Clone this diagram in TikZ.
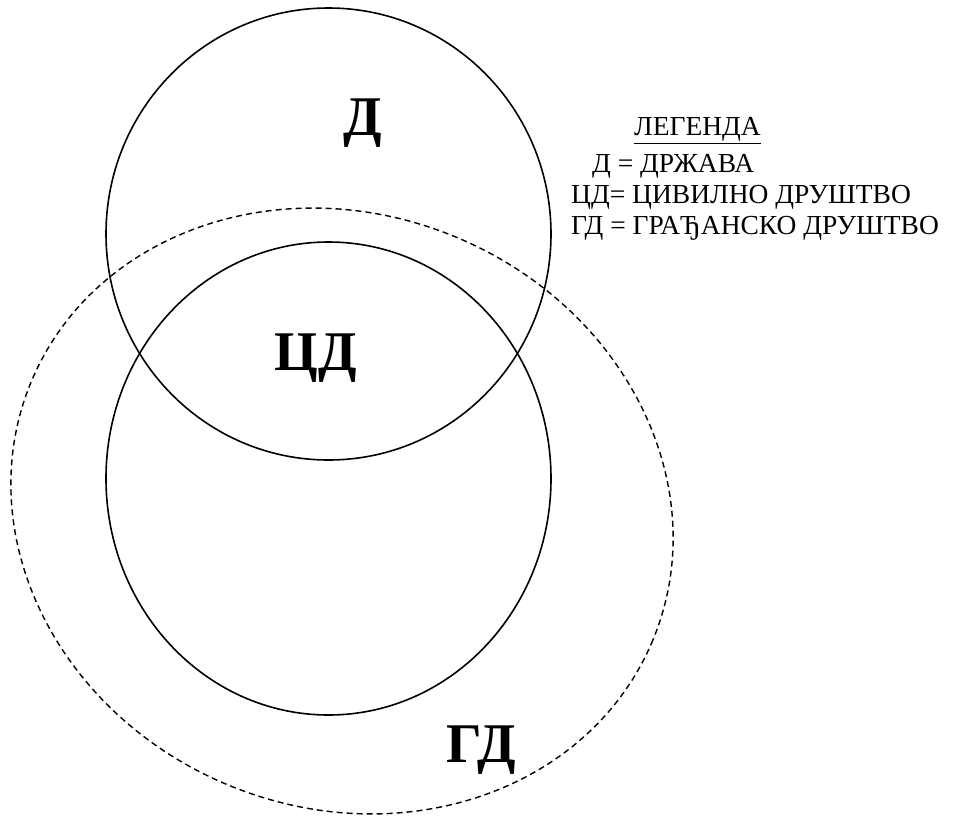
\documentclass[tikz,border=0pt]{standalone}
\usepackage{fontspec}
\setmainfont{Liberation Serif}
\usepackage{tikz}
\usetikzlibrary{positioning}
\tikzset{
  ring/.style={draw=black,line width=1.6pt},
  ringd/.style={ring,line width=1.4pt,dash pattern=on 6pt off 4pt},
  big/.style={font=\fontsize{56}{60}\selectfont\bfseries,inner sep=0pt,anchor=base},
  legline/.style={font=\fontsize{27.5}{31}\selectfont,inner sep=0pt,anchor=base west},
}
\begin{document}
\begin{tikzpicture}[x=1pt,y=-1pt]
  \useasboundingbox (0,0) rectangle (953,817);
  % the three sets
  \draw[ring] (328.5,234) ellipse [x radius=222.5,y radius=226];
  \draw[ring] (328.5,478.5) ellipse [x radius=222.5,y radius=236.5];
  \draw[ringd,rotate around={-22.5:(342,511)}] (342,511) ellipse [x radius=336.6,y radius=296.7];
  % labels inside
  \node[big] (d) at (362.5,135) {Д};
  \node[big] (cd) at (316,370) {ЦД};
  \node[big] (gd) at (481,762) {ГД};
  % legend
  \node[legline] (leg) at (634,135.5) {\underline{ЛЕГЕНДА}};
  \node[legline] (l1) at (592,172) {Д = ДРЖАВА};
  \node[legline] (l2) at (571,203) {ЦД= ЦИВИЛНО ДРУШТВО};
  \node[legline] (l3) at (571,234) {ГД = ГРАЂАНСКО ДРУШТВО};
\end{tikzpicture}
\end{document}
